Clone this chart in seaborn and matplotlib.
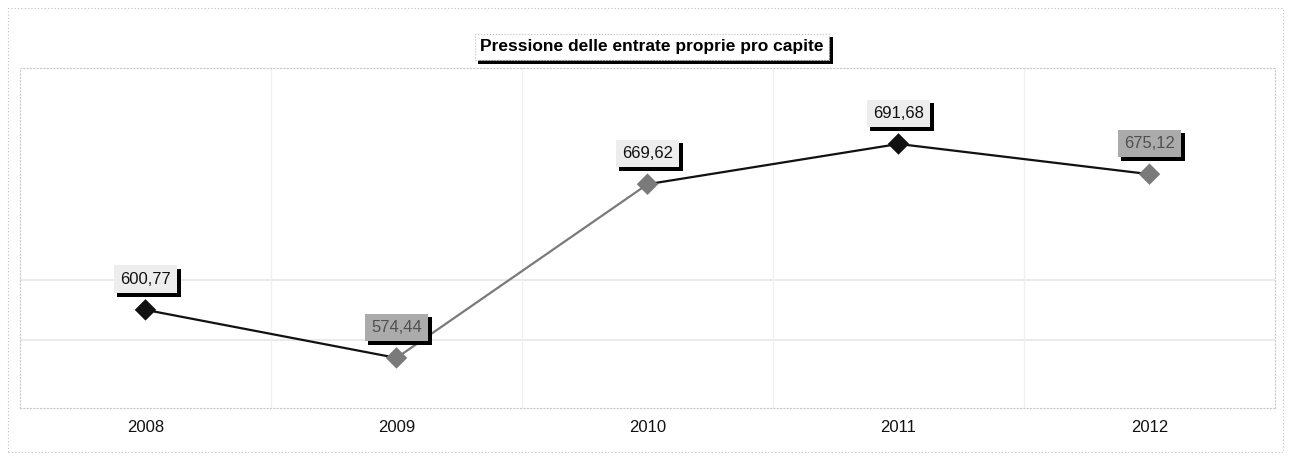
import matplotlib
matplotlib.use("Agg")
import matplotlib.pyplot as plt
import matplotlib.patheffects as pe
import seaborn as sns
import pandas as pd
from matplotlib.patches import Rectangle

# ---- data ----
years = ["2008", "2009", "2010", "2011", "2012"]
values = [600.77, 574.44, 669.62, 691.68, 675.12]
labels = ["600,77", "574,44", "669,62", "691,68", "675,12"]
marker_tone = ["dark", "light", "light", "dark", "light"]
segment_tone = ["dark", "light", "dark", "dark"]
label_tone = ["pale", "grey", "pale", "pale", "grey"]
title = "Pressione delle entrate proprie pro capite"

sns.set_theme(style="white")
plt.rcParams["font.family"] = ["Liberation Sans", "DejaVu Sans"]

DARK = "#111111"
LIGHT = "#7a7a7a"
tone_color = {"dark": DARK, "light": LIGHT}

W, H = 1291, 457
fig = plt.figure(figsize=(W / 100, H / 100), dpi=100)
ax = fig.add_axes([20 / W, 1 - 408 / H, (1275 - 20) / W, (408 - 68) / H])

df = pd.DataFrame({"year": years, "value": values, "idx": range(len(years)),
                   "tone": marker_tone})

# line segments
for i, tone in enumerate(segment_tone):
    seg = df.iloc[i:i + 2]
    sns.lineplot(data=seg, x="idx", y="value", ax=ax, color=tone_color[tone],
                 linewidth=1.6, sort=False, legend=False)

# markers
sns.scatterplot(data=df, x="idx", y="value", hue="tone",
                palette=tone_color, marker="D", s=120, edgecolor="none",
                ax=ax, legend=False, zorder=5)

ax.set_xlim(-0.5, len(years) - 0.5)
ax.set_ylim(547, 733.3)

# grid
for gy in [584.3, 617.2]:
    ax.axhline(gy, color="#e6e6e6", linewidth=1.2, zorder=0)
for gx in [0.5, 1.5, 2.5, 3.5]:
    ax.axvline(gx, color="#f0f0f0", linewidth=1.0, zorder=0)

ax.set_xticks(range(len(years)))
ax.set_xticklabels(years, fontsize=12, color="#111111")
ax.set_yticks([])
ax.tick_params(axis="x", length=0, pad=9)
ax.set_xlabel("")
ax.set_ylabel("")
for s in ax.spines.values():
    s.set_color("#c8c8c8")
    s.set_linestyle((0, (1, 2)))
    s.set_linewidth(0.8)

shadow = [pe.SimplePatchShadow(offset=(2.5, -2.5), shadow_rgbFace="black", alpha=1.0),
          pe.Normal()]

# value labels with shadow
fills = {"pale": "#ededed", "grey": "#ababab"}
texts = {"pale": "#111111", "grey": "#505050"}
for i, (v, lab, tone) in enumerate(zip(values, labels, label_tone)):
    t = ax.annotate(lab, (i, v), xytext=(0, 22), textcoords="offset points",
                    ha="center", va="center", fontsize=12, color=texts[tone],
                    bbox=dict(boxstyle="square,pad=0.38", fc=fills[tone], ec="none"),
                    zorder=7)
    t.get_bbox_patch().set_path_effects(shadow)

# title box with shadow
tt = fig.text(652 / W, 1 - 47 / H, title, ha="center", va="center",
              fontsize=12.5, fontweight="bold", color="black",
              bbox=dict(boxstyle="square,pad=0.32", fc="white", ec="#bbbbbb",
                        linestyle=":", linewidth=0.8))
tt.get_bbox_patch().set_path_effects(shadow)

# outer dotted frame
fig.patches.append(Rectangle((8 / W, 1 - 452 / H), (1283 - 8) / W, (452 - 8) / H,
                             transform=fig.transFigure, fill=False,
                             ec="#c0c0c0", lw=0.8, ls=(0, (1, 2))))

fig.savefig("out.png", dpi=100)
